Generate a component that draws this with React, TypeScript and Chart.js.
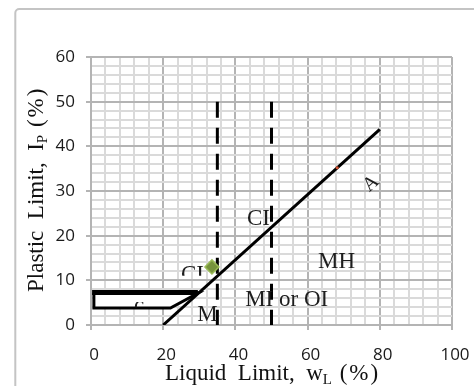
import React, { useEffect, useRef } from 'react';
import { Chart, registerables } from 'chart.js';

Chart.register(...registerables);

// Axis ranges and grid steps
const X_MIN = 0;
const X_MAX = 100;
const X_MINOR = 4;
const X_MAJOR = 20;
const Y_MIN = 0;
const Y_MAX = 60;
const Y_MINOR = 2;
const Y_MAJOR = 10;

// A-line
const aLineLL = [20, 80];
const aLinePI = [0, 43.8];
// Liquid limit boundaries (dashed)
const boundary35LL = [35, 35];
const boundary35PI = [50, 0];
const boundary50LL = [50, 50];
const boundary50PI = [50, 0];
// CL-ML hatched zone
const clmlLL = [0.8, 29.8, 22, 0.8, 0.8];
const clmlPI = [7.2, 7.2, 3.8, 3.8, 7.2];
const clmlTopLL = [0.3, 29.6];
const clmlTopPI = [7.3, 7.3];
// Soil sample
const soilLL = [33.5];
const soilPI = [13];
// Small mark on the A-line
const markLL = [68.2];
const markPI = [35.2];

// Zone labels (anchor: left/baseline in data units)
const zoneNames = ['CI', 'MH', 'MI or OI', 'M', 'CI', 'A', 'c'];
const zoneLL = [43.2, 62.9, 42.7, 29.4, 24.9, 77.6, 11.9];
const zonePI = [22.4, 12.8, 4.25, 0.9, 9.85, 31.6, 2.9];
const zoneClipHi = [null, null, null, null, 13.5, null, 5.15];
const zoneClipLo = [null, null, null, null, 11.0, null, 4.0];

const pts = (xs: number[], ys: number[]) => xs.map((x, i) => ({ x, y: ys[i] }));

const MAJOR = '#b4b4b4';
const MINOR = '#dadada';
const SERIF = '"Liberation Serif", "Times New Roman", serif';
const TICK_FONT = { family: '"Open Sans", sans-serif', size: 17 };

const decor = {
  id: 'decor',
  beforeDraw(chart: any) {
    const ctx = chart.ctx;
    ctx.save();
    ctx.fillStyle = '#ffffff';
    ctx.fillRect(0, 0, chart.width, chart.height);
    ctx.strokeStyle = '#c4c4c4';
    ctx.lineWidth = 2;
    ctx.beginPath();
    (ctx as any).roundRect(15.3, 9, chart.width + 20, chart.height + 20, 4);
    ctx.stroke();
    ctx.restore();
  },
  afterDatasetsDraw(chart: any) {
    const ctx = chart.ctx;
    const xs = chart.scales.x;
    const ys = chart.scales.y;
    zoneNames.forEach((name, i) => {
      const px = xs.getPixelForValue(zoneLL[i]);
      const py = ys.getPixelForValue(zonePI[i]);
      ctx.save();
      if (zoneClipHi[i] != null) {
        const top = ys.getPixelForValue(zoneClipHi[i] as number);
        const bot = ys.getPixelForValue(zoneClipLo[i] as number);
        ctx.beginPath();
        ctx.rect(0, top, chart.width, bot - top);
        ctx.clip();
      }
      ctx.fillStyle = '#1e1e1e';
      ctx.textBaseline = 'alphabetic';
      if (name === 'A') {
        ctx.font = `20px ${SERIF}`;
        ctx.translate(px, py);
        ctx.rotate((-42 * Math.PI) / 180);
        ctx.textAlign = 'center';
        ctx.textBaseline = 'middle';
        ctx.fillText(name, 0, 0);
      } else {
        ctx.font = `23px ${SERIF}`;
        ctx.textAlign = 'left';
        ctx.fillText(name, px, py);
      }
      ctx.restore();
    });
  },
  afterDraw(chart: any) {
    const ctx = chart.ctx;
    const big = `23px ${SERIF}`;
    const small = `15px ${SERIF}`;
    ctx.save();
    ctx.fillStyle = '#111111';
    ctx.textAlign = 'left';
    ctx.textBaseline = 'alphabetic';
    const drawTitle = (a: string, sub: string, b: string) => {
      let x = 0;
      ctx.font = big;
      ctx.fillText(a, x, 0);
      x += ctx.measureText(a).width;
      ctx.font = small;
      ctx.fillText(sub, x, 4);
      x += ctx.measureText(sub).width;
      ctx.font = big;
      (ctx as any).letterSpacing = '2px';
      ctx.fillText(b, x, 0);
      (ctx as any).letterSpacing = '0px';
    };
    // x title
    ctx.save();
    ctx.translate(165, 380);
    drawTitle('Liquid  Limit,  w', 'L', ' (%)');
    ctx.restore();
    // y title
    ctx.save();
    ctx.translate(43, 292);
    ctx.rotate(-Math.PI / 2);
    drawTitle('Plastic  Limit,  I', 'P', ' (%)');
    ctx.restore();
    ctx.restore();
  },
};

export default function App() {
  const ref = useRef<HTMLCanvasElement | null>(null);
  useEffect(() => {
    if (!ref.current) return;
    const line = (xs: number[], ys: number[], extra: any) => ({
      type: 'scatter',
      data: pts(xs, ys),
      showLine: true,
      pointRadius: 0,
      borderColor: '#000000',
      borderWidth: 3,
      fill: false,
      ...extra,
    });
    const chart = new Chart(ref.current, {
      type: 'scatter',
      data: {
        datasets: [
          {
            type: 'scatter',
            data: pts(soilLL, soilPI),
            pointStyle: 'rectRot',
            pointRadius: 7,
            backgroundColor: '#77933C',
            borderColor: '#9BBB59',
            borderWidth: 1.5,
            showLine: false,
          },
          {
            type: 'scatter',
            data: pts(markLL, markPI),
            pointStyle: 'circle',
            pointRadius: 1.6,
            backgroundColor: '#D05030',
            borderColor: '#D05030',
            borderWidth: 0,
            showLine: false,
          },
          line(aLineLL, aLinePI, {}),
          line(boundary35LL, boundary35PI, { borderDash: [16, 10] }),
          line(boundary50LL, boundary50PI, { borderDash: [16, 10] }),
          line(clmlTopLL, clmlTopPI, { borderWidth: 5 }),
          line(clmlLL, clmlPI, { fill: 'shape', backgroundColor: '#ffffff', borderWidth: 3 }),
        ] as any,
      },
      options: {
        animation: false,
        responsive: false,
        devicePixelRatio: 1,
        layout: { padding: { left: 0, right: 22, top: 57, bottom: 0 } },
        plugins: { legend: { display: false }, tooltip: { enabled: false } },
        scales: {
          x: {
            type: 'linear',
            min: X_MIN,
            max: X_MAX,
            afterFit: (s: any) => {
              s.height = 61;
              s.paddingLeft = 0;
              s.paddingRight = 0;
            },
            ticks: {
              stepSize: X_MINOR,
              autoSkip: false,
              maxRotation: 0,
              padding: 15,
              labelOffset: 3,
              color: '#1a1a1a',
              font: TICK_FONT,
              callback: (v: any) => (Number(v) % X_MAJOR === 0 ? String(v) : ''),
            },
            grid: {
              color: (c: any) => (c.tick && c.tick.value % X_MAJOR === 0 ? MAJOR : MINOR),
              tickColor: (c: any) => (c.tick && c.tick.value % X_MAJOR === 0 ? MAJOR : 'rgba(0,0,0,0)'),
              tickLength: 5,
              lineWidth: 2,
            },
            border: { display: true, color: MAJOR, width: 2 },
          },
          y: {
            type: 'linear',
            min: Y_MIN,
            max: Y_MAX,
            afterFit: (s: any) => {
              s.width = 91;
              s.paddingTop = 0;
              s.paddingBottom = 0;
            },
            ticks: {
              stepSize: Y_MINOR,
              autoSkip: false,
              padding: 11,
              color: '#1a1a1a',
              font: TICK_FONT,
              callback: (v: any) => (Number(v) % Y_MAJOR === 0 ? String(v) : ''),
            },
            grid: {
              color: (c: any) => (c.tick && c.tick.value % Y_MAJOR === 0 ? MAJOR : MINOR),
              tickColor: (c: any) => (c.tick && c.tick.value % Y_MAJOR === 0 ? MAJOR : 'rgba(0,0,0,0)'),
              tickLength: 5,
              lineWidth: 2,
            },
            border: { display: true, color: MAJOR, width: 2 },
          },
        },
      } as any,
      plugins: [decor],
    } as any);
    return () => chart.destroy();
  }, []);
  return (
    <div style={{ position: 'fixed', left: 0, top: 0, width: 474, height: 386 }}>
      <canvas ref={ref} width={474} height={386} style={{ display: 'block', width: 474, height: 386 }} />
    </div>
  );
}
